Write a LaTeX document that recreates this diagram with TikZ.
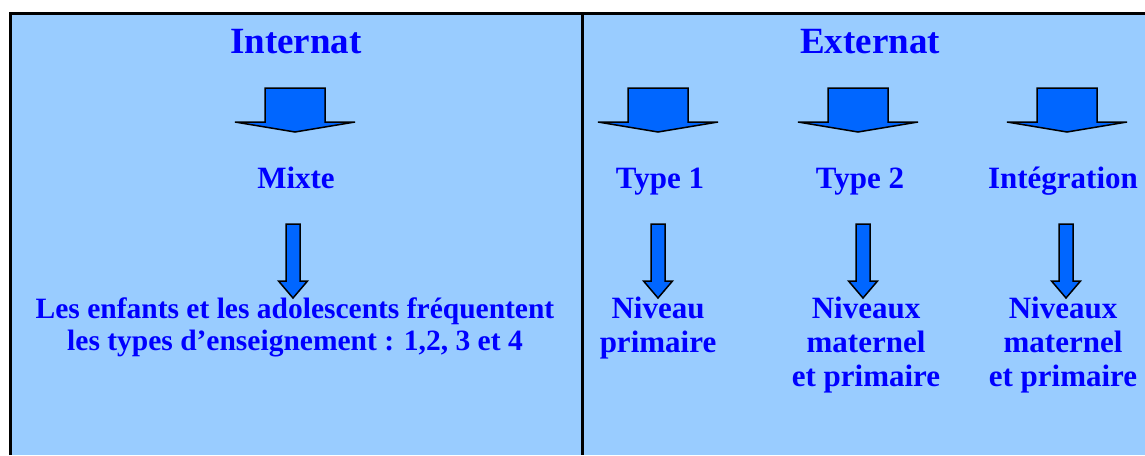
\documentclass[tikz,border=0pt]{standalone}
\usepackage{fontspec}
\setmainfont{Liberation Serif}
\definecolor{bgblue}{HTML}{99CCFF}
\definecolor{txtblue}{HTML}{0000FF}
\definecolor{arrblue}{HTML}{0066FF}
\tikzset{
  border/.style={line width=3pt, black},
  titletext/.style={text=txtblue, font=\fontsize{37}{40}\selectfont\bfseries, inner sep=0pt, anchor=base},
  labeltext/.style={text=txtblue, font=\fontsize{31}{34}\selectfont\bfseries, inner sep=0pt, anchor=base},
  sentencetext/.style={text=txtblue, font=\fontsize{29.5}{32}\selectfont\bfseries, inner sep=0pt, anchor=base},
  blockarrow/.style={fill=arrblue, draw=black, line width=1.5pt, line join=miter},
  pics/bigarr/.style={code={
    \draw[blockarrow] (-30,0) -- (30,0) -- (30,34) -- (60,34) -- (0,44) -- (-60,34) -- (-30,34) -- cycle;
  }},
  pics/smallarr/.style={code={
    \draw[blockarrow] (-7,0) -- (7,0) -- (7,57) -- (14.5,57) -- (0,74) -- (-14.5,57) -- (-7,57) -- cycle;
  }}
}
\newcommand{\lines}[1]{\begin{tabular}[t]{@{}c@{}}#1\end{tabular}}
\begin{document}
\begin{tikzpicture}[x=1pt,y=-1pt]
\useasboundingbox (0,0) rectangle (1145,455);
\fill[bgblue] (10,13) rectangle (1145,455);
\draw[border] (10,455) -- (10,13.5) -- (1145,13.5);
\draw[border] (582,13.5) -- (582,455);

% titles
\node[titletext] (internat) at (296,53) {Internat};
\node[titletext] (externat) at (870,53) {Externat};

% big arrows
\coordinate (ba1) at (295,88);
\coordinate (ba2) at (658,88);
\coordinate (ba3) at (858,88);
\coordinate (ba4) at (1067,88);
\pic at (ba1) {bigarr};
\pic at (ba2) {bigarr};
\pic at (ba3) {bigarr};
\pic at (ba4) {bigarr};

% second row labels
\node[labeltext] (mixte) at (296,188) {Mixte};
\node[labeltext] (type1) at (660,188) {Type 1};
\node[labeltext] (type2) at (860,188) {Type 2};
\node[labeltext] (integ) at (1063,188) {Intégration};

% small arrows
\coordinate (sa1) at (293,224);
\coordinate (sa2) at (658,224);
\coordinate (sa3) at (863,224);
\coordinate (sa4) at (1066,224);
\pic at (sa1) {smallarr};
\pic at (sa2) {smallarr};
\pic at (sa3) {smallarr};
\pic at (sa4) {smallarr};

% bottom texts
\node[sentencetext] (enfants) at (295,318) {\lines{Les enfants et les adolescents fréquentent\\les types d’enseignement : 1,2, 3 et 4}};
\node[labeltext] (niv1) at (658,318) {\lines{Niveau\\primaire}};
\node[labeltext] (niv2) at (866,318) {\lines{Niveaux\\maternel\\et primaire}};
\node[labeltext] (niv3) at (1063,318) {\lines{Niveaux\\maternel\\et primaire}};
\end{tikzpicture}
\end{document}
